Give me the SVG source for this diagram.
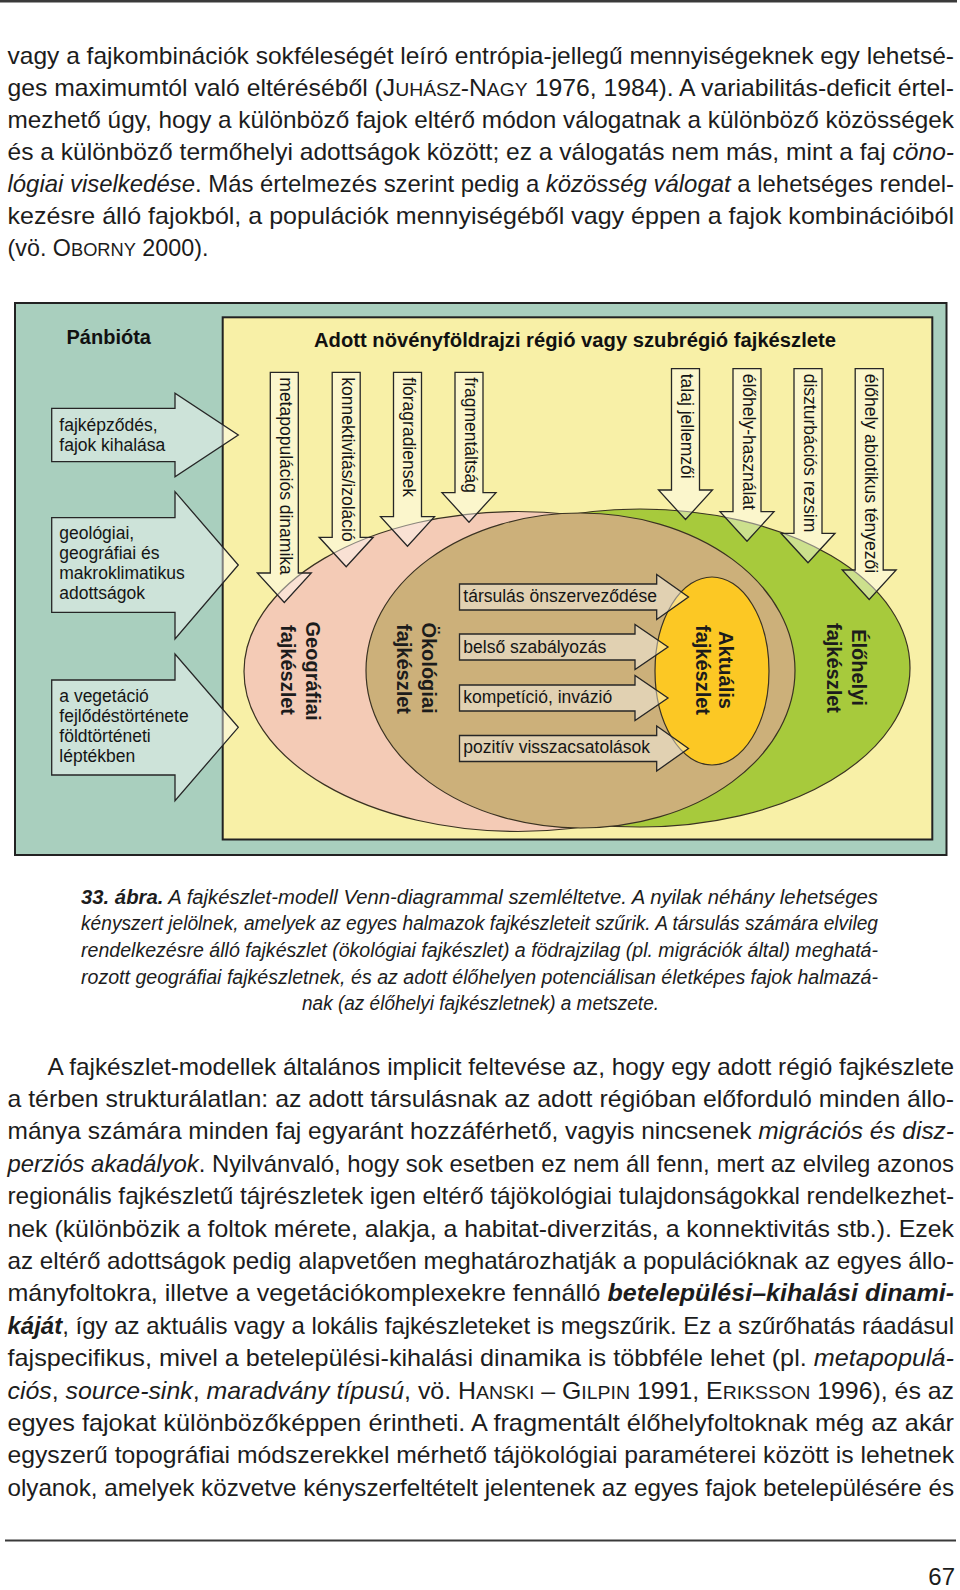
<svg xmlns="http://www.w3.org/2000/svg" width="960" height="1590" viewBox="0 0 960 1590">
<style>
text{font-family:"Liberation Sans",Arial,sans-serif;fill:#1c1c1c}
.body{font-size:24px}
.cap{font-size:19.5px;font-style:italic}
.it{font-style:italic}
.bi{font-weight:bold;font-style:italic}
.b{font-weight:bold}
.sc{font-size:18.8px}
.lbl{font-size:17.5px;fill:#151515}
.hd{font-size:20px;font-weight:bold;fill:#111}
.ttl{font-size:20px;font-weight:bold;fill:#111}
.arr{fill:#ffffff;fill-opacity:0.42;stroke:#262626;stroke-width:1.3;stroke-linejoin:miter}
.ell{stroke:#3a3222;stroke-width:1.2}
.rule{stroke:#3a3a3a}
</style>

<!-- page rules -->
<line class="rule" x1="0" y1="1.2" x2="957" y2="1.2" stroke-width="2.4"/>
<line class="rule" x1="5" y1="1540.5" x2="956" y2="1540.5" stroke-width="2.2"/>

<!-- paragraph 1 -->
<g id="paragraph1" class="body">
<text x="7.5" y="64" textLength="946.5" lengthAdjust="spacingAndGlyphs">vagy a fajkombinációk sokféleségét leíró entrópia-jellegű mennyiségeknek egy lehetsé-</text>
<text x="7.5" y="96" textLength="946.5" lengthAdjust="spacingAndGlyphs">ges maximumtól való eltéréséből (J<tspan class="sc">UHÁSZ</tspan>-N<tspan class="sc">AGY</tspan> 1976, 1984). A variabilitás-deficit értel-</text>
<text x="7.5" y="128.1" textLength="946.5" lengthAdjust="spacingAndGlyphs">mezhető úgy, hogy a különböző fajok eltérő módon válogatnak a különböző közösségek</text>
<text x="7.5" y="160.1" textLength="946.5" lengthAdjust="spacingAndGlyphs">és a különböző termőhelyi adottságok között; ez a válogatás nem más, mint a faj <tspan class="it">cöno-</tspan></text>
<text x="7.5" y="192.2" textLength="946.5" lengthAdjust="spacingAndGlyphs"><tspan class="it">lógiai viselkedése</tspan>. Más értelmezés szerint pedig a <tspan class="it">közösség válogat</tspan> a lehetséges rendel-</text>
<text x="7.5" y="224.2" textLength="946.5" lengthAdjust="spacingAndGlyphs">kezésre álló fajokból, a populációk mennyiségéből vagy éppen a fajok kombinációiból</text>
<text x="7.5" y="256.3" textLength="201" lengthAdjust="spacingAndGlyphs">(vö. O<tspan class="sc">BORNY</tspan> 2000).</text>
</g>

<!-- diagram -->
<g id="diagram">
<g id="panbiota">
<rect x="15" y="303" width="931.5" height="552" fill="#a9cfbe" stroke="#222" stroke-width="2"/>
<text class="hd" x="66.5" y="344">Pánbióta</text>
</g>
<g id="region">
<rect x="222.7" y="317.3" width="709.6" height="522.2" fill="#f8f0a7" stroke="#222" stroke-width="2"/>
<text class="ttl" x="314" y="347" textLength="522" lengthAdjust="spacingAndGlyphs">Adott növényföldrajzi régió vagy szubrégió fajkészlete</text>
</g>

<g id="geografiai">
<ellipse class="ell" cx="518" cy="671.5" rx="274" ry="160" fill="#f4cbb6"/>
</g>
<g id="elohelyi">
<ellipse class="ell" cx="640" cy="668" rx="270" ry="159" fill="#a7ca3c"/>
</g>
<g id="okologiai">
<ellipse class="ell" cx="580.5" cy="670.5" rx="214.5" ry="157.5" fill="#ccb07a"/>
</g>
<g id="aktualis">
<ellipse class="ell" cx="712" cy="671" rx="57" ry="94" fill="#fcc824"/>
</g>

<g id="set-labels" class="hd">
<text transform="translate(305.7,671) rotate(90)" text-anchor="middle">Geográfiai</text>
<text transform="translate(280.5,670) rotate(90)" text-anchor="middle">fajkészlet</text>
<text transform="translate(422.4,668) rotate(90)" text-anchor="middle">Ökológiai</text>
<text transform="translate(397.4,669) rotate(90)" text-anchor="middle">fajkészlet</text>
<text transform="translate(719,670) rotate(90)" text-anchor="middle">Aktuális</text>
<text transform="translate(695.5,670) rotate(90)" text-anchor="middle">fajkészlet</text>
<text transform="translate(852.4,667.5) rotate(90)" text-anchor="middle">Élőhelyi</text>
<text transform="translate(827.4,668) rotate(90)" text-anchor="middle">fajkészlet</text>
</g>

<g id="connectors">
<!-- left (pánbióta) arrows -->
<g id="arrow-fajkepzodes">
<path class="arr" d="M51.7,408.3 H175 V393.3 L238.3,435 L175,476.7 V461.7 H51.7 Z"/>
<text class="lbl" x="59.3" y="430.5">fajképződés,</text>
<text class="lbl" x="59.3" y="450.7">fajok kihalása</text>
</g>
<g id="arrow-geologiai">
<path class="arr" d="M51.7,517.7 H175 V491.7 L238.3,565 L175,639 V612.3 H51.7 Z"/>
<text class="lbl" x="59.3" y="539.3">geológiai,</text>
<text class="lbl" x="59.3" y="559.3">geográfiai és</text>
<text class="lbl" x="59.3" y="579.3">makroklimatikus</text>
<text class="lbl" x="59.3" y="599.3">adottságok</text>
</g>
<g id="arrow-vegetacio">
<path class="arr" d="M51.7,680 H175 V654 L238.3,727.3 L175,800.7 V775 H51.7 Z"/>
<text class="lbl" x="59.3" y="701.7">a vegetáció</text>
<text class="lbl" x="59.3" y="721.9">fejlődéstörténete</text>
<text class="lbl" x="59.3" y="742.1">földtörténeti</text>
<text class="lbl" x="59.3" y="762.3">léptékben</text>
</g>

<!-- down arrows -->
<g id="arrow-metapop">
<path class="arr" d="M270.3,372.3 H298.3 V573 H311.3 L284.3,602.5 L257.3,573 H270.3 Z"/>
<text class="lbl" transform="translate(280.3,377.3) rotate(90)">metapopulációs dinamika</text>
</g>
<g id="arrow-konnekt">
<path class="arr" d="M332.2,372.3 H360.2 V537.3 H373.2 L346.2,566.8 L319.2,537.3 H332.2 Z"/>
<text class="lbl" transform="translate(341.7,377.3) rotate(90)">konnektivitás/izoláció</text>
</g>
<g id="arrow-flora">
<path class="arr" d="M393.5,372.3 H421.5 V516.7 H434.5 L407.5,546.2 L380.5,516.7 H393.5 Z"/>
<text class="lbl" transform="translate(403,377.3) rotate(90)">flóragradiensek</text>
</g>
<g id="arrow-fragment">
<path class="arr" d="M455,372.3 H483 V492.7 H496 L469,522.2 L442,492.7 H455 Z"/>
<text class="lbl" transform="translate(464.5,377.3) rotate(90)">fragmentáltság</text>
</g>
<g id="arrow-talaj">
<path class="arr" d="M671.5,368.7 H699.5 V490 H712.5 L685.5,519.5 L658.5,490 H671.5 Z"/>
<text class="lbl" transform="translate(681,373.7) rotate(90)">talaj jellemzői</text>
</g>
<g id="arrow-hasznalat">
<path class="arr" d="M733,368.7 H761 V511.7 H774 L747,541.2 L720,511.7 H733 Z"/>
<text class="lbl" transform="translate(742.5,373.7) rotate(90)">élőhely-használat</text>
</g>
<g id="arrow-diszturb">
<path class="arr" d="M794,368.7 H822 V533.3 H835 L808,562.8 L781,533.3 H794 Z"/>
<text class="lbl" transform="translate(803.5,373.7) rotate(90)">diszturbációs rezsim</text>
</g>
<g id="arrow-abiotikus">
<path class="arr" d="M855.2,368.7 H883.2 V570 H896.2 L869.2,599.5 L842.2,570 H855.2 Z"/>
<text class="lbl" transform="translate(864.7,373.7) rotate(90)">élőhely abiotikus tényezői</text>
</g>

<!-- inner arrows -->
<g id="arrow-onszervezodes">
<path class="arr" d="M459.5,584 H656.7 V574.5 L688.5,597 L656.7,619.5 V610 H459.5 Z"/>
<text class="lbl" x="463.3" y="602.3">társulás önszerveződése</text>
</g>
<g id="arrow-belso">
<path class="arr" d="M459.5,634 H635 V624.5 L668,647 L635,669.5 V660 H459.5 Z"/>
<text class="lbl" x="463.3" y="652.7">belső szabályozás</text>
</g>
<g id="arrow-kompeticio">
<path class="arr" d="M459.5,685 H635 V675.5 L668,698 L635,720.5 V711 H459.5 Z"/>
<text class="lbl" x="463.3" y="703.3">kompetíció, invázió</text>
</g>
<g id="arrow-pozitiv">
<path class="arr" d="M459.5,735.5 H656.7 V726 L688.5,748.5 L656.7,771 V761.5 H459.5 Z"/>
<text class="lbl" x="463.3" y="753.3">pozitív visszacsatolások</text>
</g>
</g>
</g>

<!-- caption -->
<g id="caption" class="cap">
<text x="81" y="903.5" textLength="797" lengthAdjust="spacingAndGlyphs"><tspan class="b">33. ábra.</tspan> A fajkészlet-modell Venn-diagrammal szemléltetve. A nyilak néhány lehetséges</text>
<text x="81" y="930" textLength="797" lengthAdjust="spacingAndGlyphs">kényszert jelölnek, amelyek az egyes halmazok fajkészleteit szűrik. A társulás számára elvileg</text>
<text x="81" y="957" textLength="797" lengthAdjust="spacingAndGlyphs">rendelkezésre álló fajkészlet (ökológiai fajkészlet) a födrajzilag (pl. migrációk által) meghatá-</text>
<text x="81" y="983.5" textLength="797" lengthAdjust="spacingAndGlyphs">rozott geográfiai fajkészletnek, és az adott élőhelyen potenciálisan életképes fajok halmazá-</text>
<text x="302" y="1010" textLength="357" lengthAdjust="spacingAndGlyphs">nak (az élőhelyi fajkészletnek) a metszete.</text>
</g>

<!-- paragraph 2 -->
<g id="paragraph2" class="body">
<text x="47.6" y="1074.5" textLength="906.4" lengthAdjust="spacingAndGlyphs">A fajkészlet-modellek általános implicit feltevése az, hogy egy adott régió fajkészlete</text>
<text x="7.5" y="1106.9" textLength="946.5" lengthAdjust="spacingAndGlyphs">a térben strukturálatlan: az adott társulásnak az adott régióban előforduló minden állo-</text>
<text x="7.5" y="1139.3" textLength="946.5" lengthAdjust="spacingAndGlyphs">mánya számára minden faj egyaránt hozzáférhető, vagyis nincsenek <tspan class="it">migrációs és disz-</tspan></text>
<text x="7.5" y="1171.7" textLength="946.5" lengthAdjust="spacingAndGlyphs"><tspan class="it">perziós akadályok</tspan>. Nyilvánvaló, hogy sok esetben ez nem áll fenn, mert az elvileg azonos</text>
<text x="7.5" y="1204.1" textLength="946.5" lengthAdjust="spacingAndGlyphs">regionális fajkészletű tájrészletek igen eltérő tájökológiai tulajdonságokkal rendelkezhet-</text>
<text x="7.5" y="1236.5" textLength="946.5" lengthAdjust="spacingAndGlyphs">nek (különbözik a foltok mérete, alakja, a habitat-diverzitás, a konnektivitás stb.). Ezek</text>
<text x="7.5" y="1268.9" textLength="946.5" lengthAdjust="spacingAndGlyphs">az eltérő adottságok pedig alapvetően meghatározhatják a populációknak az egyes állo-</text>
<text x="7.5" y="1301.3" textLength="946.5" lengthAdjust="spacingAndGlyphs">mányfoltokra, illetve a vegetációkomplexekre fennálló <tspan class="bi">betelepülési–kihalási dinami-</tspan></text>
<text x="7.5" y="1333.7" textLength="946.5" lengthAdjust="spacingAndGlyphs"><tspan class="bi">káját</tspan>, így az aktuális vagy a lokális fajkészleteket is megszűrik. Ez a szűrőhatás ráadásul</text>
<text x="7.5" y="1366.1" textLength="946.5" lengthAdjust="spacingAndGlyphs">fajspecifikus, mivel a betelepülési-kihalási dinamika is többféle lehet (pl. <tspan class="it">metapopulá-</tspan></text>
<text x="7.5" y="1398.5" textLength="946.5" lengthAdjust="spacingAndGlyphs"><tspan class="it">ciós</tspan>, <tspan class="it">source-sink</tspan>, <tspan class="it">maradvány típusú</tspan>, vö. H<tspan class="sc">ANSKI</tspan> – G<tspan class="sc">ILPIN</tspan> 1991, E<tspan class="sc">RIKSSON</tspan> 1996), és az</text>
<text x="7.5" y="1430.9" textLength="946.5" lengthAdjust="spacingAndGlyphs">egyes fajokat különbözőképpen érintheti. A fragmentált élőhelyfoltoknak még az akár</text>
<text x="7.5" y="1463.3" textLength="946.5" lengthAdjust="spacingAndGlyphs">egyszerű topográfiai módszerekkel mérhető tájökológiai paraméterei között is lehetnek</text>
<text x="7.5" y="1495.7" textLength="946.5" lengthAdjust="spacingAndGlyphs">olyanok, amelyek közvetve kényszerfeltételt jelentenek az egyes fajok betelepülésére és</text>
</g>

<text class="body" x="955" y="1585" text-anchor="end" font-size="24">67</text>
</svg>
